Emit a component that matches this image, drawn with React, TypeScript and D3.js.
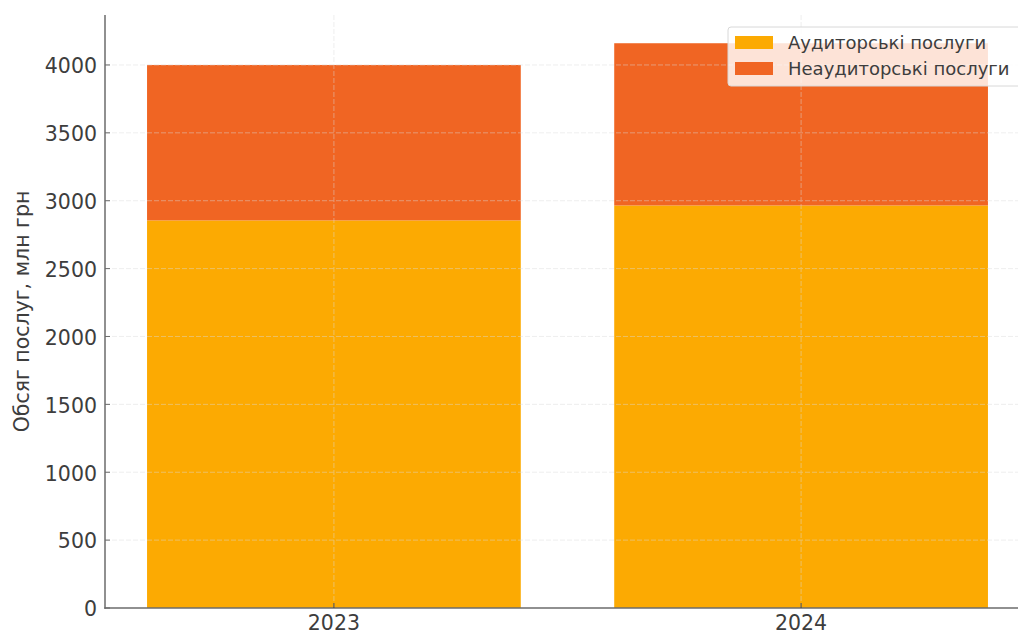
import React from "react";
import * as d3 from "d3";

const categories = ["2023", "2024"];
const auditValues = [2855, 2965];
const nonAuditValues = [1145, 1195];
const seriesNames = ["Аудиторські послуги", "Неаудиторські послуги"];
const yTicks = [0, 500, 1000, 1500, 2000, 2500, 3000, 3500, 4000];
const yLabel = "Обсяг послуг, млн грн";

const colors = ["#FCAA02", "#F06523"];
const W = 1018;
const H = 635;
const FONT = "'DejaVu Sans', sans-serif";
const TEXT = "#3d3d3d";

export default function App() {
  const totals = categories.map((_, i) => auditValues[i] + nonAuditValues[i]);
  const ymax = (d3.max(totals) as number) * 1.05;
  const y = d3.scaleLinear().domain([0, ymax]).range([608, 15]);
  const x = d3.scaleLinear().domain([-0.49, 1.49]).range([105, 1030]);
  const bw = x(0.4) - x(-0.4);
  const stack = d3.stack<number>().keys(["a", "n"]).value((i, k) => (k === "a" ? auditValues[i] : nonAuditValues[i]));
  const layers = stack(categories.map((_, i) => i));
  const x0 = x.range()[0];
  const x1 = x.range()[1];
  return (
    <svg width={W} height={H} style={{ position: "absolute", left: 0, top: 0, background: "#fff" }} fontFamily={FONT}>
      {layers.map((layer, li) =>
        layer.map((d, i) => (
          <rect key={li + "-" + i} x={x(i) - bw / 2} width={bw} y={y(d[1])} height={y(d[0]) - y(d[1])} fill={colors[li]} />
        ))
      )}
      {/* grid on top, faint */}
      <g opacity={0.45}>
        {yTicks.slice(1).map((t) => (
          <line key={t} x1={x0} x2={x1} y1={y(t)} y2={y(t)} stroke="#dcdcdc" strokeWidth={1} strokeDasharray="5,2" />
        ))}
        {categories.map((c, i) => (
          <line key={c} x1={x(i)} x2={x(i)} y1={y.range()[1]} y2={y(0)} stroke="#dcdcdc" strokeWidth={1} strokeDasharray="5,2" />
        ))}
      </g>
      {/* spines */}
      <line x1={x0} x2={x0} y1={y.range()[1]} y2={y(0) + 0.75} stroke="#6b6b6b" strokeWidth={1.5} />
      <line x1={x0 - 0.75} x2={x1} y1={y(0)} y2={y(0)} stroke="#6b6b6b" strokeWidth={1.5} />
      {/* y ticks */}
      {yTicks.map((t) => (
        <g key={t}>
          <line x1={x0} x2={x0 + 5} y1={y(t)} y2={y(t)} stroke="#6b6b6b" strokeWidth={1} />
          <text x={97} y={y(t) + 1} dy="0.36em" textAnchor="end" fontSize={20.5} fill={TEXT}>
            {t}
          </text>
        </g>
      ))}
      {/* x ticks */}
      {categories.map((c, i) => (
        <g key={c}>
          <line x1={x(i)} x2={x(i)} y1={y(0)} y2={y(0) - 5} stroke="#444" strokeWidth={1} />
          <text x={x(i)} y={630} textAnchor="middle" fontSize={20.5} fill={TEXT}>
            {c}
          </text>
        </g>
      ))}
      <text transform={`translate(29,${(y.range()[0] + y.range()[1]) / 2}) rotate(-90)`} textAnchor="middle" fontSize={20.5} fill={TEXT}>
        {yLabel}
      </text>
      {/* legend */}
      <g>
        <rect x={728} y={27} width={296} height={59} rx={3} fill="#fff" fillOpacity={0.82} stroke="#d8d8d8" strokeWidth={1} />
        {seriesNames.map((s, i) => (
          <g key={s}>
            <rect x={735} y={36 + i * 26} width={38} height={13} fill={colors[i]} />
            <text x={788} y={42.5 + i * 26} dy="0.36em" fontSize={18} fill={TEXT}>
              {s}
            </text>
          </g>
        ))}
      </g>
    </svg>
  );
}
